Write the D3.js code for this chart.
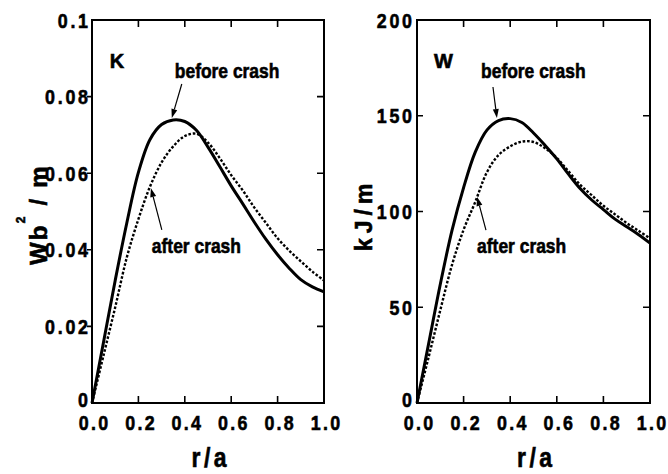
<!DOCTYPE html>
<html>
<head>
<meta charset="utf-8">
<script src="https://cdn.jsdelivr.net/npm/d3@7"></script>
<style>
  body { margin: 0; background: #fff; }
  svg text {
    font-family: "Liberation Sans", Arial, sans-serif;
    font-weight: bold;
    fill: #000;
    stroke: #000;
    stroke-width: 0.6px;
  }
</style>
</head>
<body>
<svg id="chart" width="668" height="474"></svg>
<script>
const radius = [0, 0.05, 0.1, 0.15, 0.2, 0.25, 0.3, 0.35, 0.4, 0.45, 0.5,
  0.55, 0.6, 0.65, 0.7, 0.75, 0.8, 0.85, 0.9, 0.95, 1.0];

// K panel (Wb^2/m)
const kBefore = [0, 0.016, 0.032, 0.047, 0.0602, 0.0688, 0.0727, 0.0739, 0.0735,
  0.0712, 0.0668, 0.0618, 0.0567, 0.052, 0.0472, 0.0427, 0.0387, 0.0352, 0.0322,
  0.0303, 0.029];
const kAfter = [0, 0.0125, 0.025, 0.038, 0.048, 0.0565, 0.0628, 0.067, 0.0697,
  0.0703, 0.068, 0.064, 0.0595, 0.0555, 0.051, 0.047, 0.043, 0.0398, 0.037,
  0.0343, 0.032];

// W panel (kJ/m)
const wBefore = [0, 31, 62, 90, 112.5, 131, 142.5, 147.5, 148.5, 146.5, 141,
  134.5, 127.5, 119.5, 112, 106, 101, 96, 92, 88, 83.5];
const wAfter = [0, 24, 48.5, 72, 90.5, 105, 120.5, 129.5, 134, 136.5, 136.3,
  133, 128, 121, 114, 108.5, 103, 98.5, 94, 90, 86];

const xTicks = [0, 0.2, 0.4, 0.6, 0.8, 1.0];
const kTicks = [0, 0.02, 0.04, 0.06, 0.08, 0.1];
const kTickLabels = ["0", "0.02", "0.04", "0.06", "0.08", "0.1"];
const wTicks = [0, 50, 100, 150, 200];
const wTickLabels = ["0", "50", "100", "150", "200"];

const SX = 0.85; // squeeze to get the condensed look
const svg = d3.select("#chart");

// text with horizontal squeeze; letter-spacing trail is compensated
function txt(g, x, y, s, size, anchor, ls, sx = SX) {
  const shift = anchor === "end" ? ls * sx : anchor === "middle" ? ls * sx / 2 : 0;
  return g.append("text")
    .attr("transform", `translate(${x + shift},${y}) scale(${sx},1)`)
    .attr("text-anchor", anchor)
    .attr("font-size", size)
    .attr("letter-spacing", ls)
    .text(s);
}

function drawPanel(opt) {
  const x = d3.scaleLinear().domain([0, 1]).range([opt.left, opt.right]);
  const y = d3.scaleLinear().domain([0, opt.yMax]).range([403, 20]);
  const g = svg.append("g");

  const line = (vals) =>
    d3.line()
      .x((d, i) => x(radius[i]))
      .y((d) => y(d))
      .curve(d3.curveCatmullRom)(vals);

  g.append("path")
    .attr("d", line(opt.after))
    .attr("fill", "none")
    .attr("stroke", "#000")
    .attr("stroke-width", 2.4)
    .attr("stroke-dasharray", "2.6,1.8");

  g.append("path")
    .attr("d", line(opt.before))
    .attr("fill", "none")
    .attr("stroke", "#000")
    .attr("stroke-width", 3);

  // frame
  g.append("rect")
    .attr("x", x(0))
    .attr("y", y(opt.yMax))
    .attr("width", x(1) - x(0))
    .attr("height", y(0) - y(opt.yMax))
    .attr("fill", "none")
    .attr("stroke", "#000")
    .attr("stroke-width", 2);

  // ticks
  g.selectAll(".xt")
    .data(xTicks.slice(1, -1))
    .join("path")
    .attr("d", (d) => `M${x(d)},${y(0)}v-7M${x(d)},${y(opt.yMax)}v7`)
    .attr("stroke", "#000")
    .attr("stroke-width", 1.6);

  g.selectAll(".yt")
    .data(opt.yTicks.slice(1, -1))
    .join("path")
    .attr("d", (d) =>
      `M${x(0) + opt.leftTick},${y(d)}H${x(0)}M${x(1)},${y(d)}h-7`)
    .attr("stroke", "#000")
    .attr("stroke-width", 1.6);

  // tick labels
  xTicks.forEach((d) => txt(g, x(d) + 1.5, 430, d.toFixed(1), 21, "middle", 2.7));
  opt.yTicks.forEach((d, i) =>
    txt(g, x(0) - opt.labelGap, y(d) + (d === 0 ? 3.5 : 7.5), opt.yTickLabels[i], 21, "end", 3.2));

  // axis titles
  txt(g, (x(0) + x(1)) / 2 + 1, 467, "r/a", 27, "middle", 4);

  const yt = g.append("text")
    .attr("transform", `translate(${opt.titleX},${opt.titleY}) rotate(-90)`)
    .attr("text-anchor", "start");
  opt.title(yt);

  // panel letter
  txt(g, x(opt.letter[0]), y(opt.letter[1]), opt.letter[2], 20, "start", 0, 1);

  // annotations
  opt.notes.forEach((n) => {
    txt(g, x(n.text[0]), y(n.text[1]), n.label, 20.5, "start", 0);

    const x1 = x(n.tail[0]), y1 = y(n.tail[1]);
    const x2 = x(n.tip[0]), y2 = y(n.tip[1]);
    const ang = Math.atan2(y2 - y1, x2 - x1);
    const len = 9, wid = 3;
    const bx = x2 - len * Math.cos(ang), by = y2 - len * Math.sin(ang);
    g.append("line")
      .attr("x1", x1).attr("y1", y1)
      .attr("x2", bx).attr("y2", by)
      .attr("stroke", "#000")
      .attr("stroke-width", 1.2);
    g.append("path")
      .attr("d", `M${x2},${y2}L${bx + wid * Math.sin(ang)},${by - wid * Math.cos(ang)}` +
        `L${bx - wid * Math.sin(ang)},${by + wid * Math.cos(ang)}Z`)
      .attr("fill", "#000");
  });
}

drawPanel({
  left: 92, right: 324, yMax: 0.1,
  yTicks: kTicks, yTickLabels: kTickLabels,
  before: kBefore, after: kAfter,
  leftTick: -5, labelGap: 4,
  titleX: 47, titleY: 265,
  title: (t) => {
    t.attr("font-size", 24).attr("letter-spacing", 2.2);
    t.append("tspan").text("Wb");
    t.append("tspan").attr("dy", -22).attr("font-size", 12).text("2");
    t.append("tspan").attr("dy", 22).text(" / m");
  },
  letter: [0.077, 0.0875, "K"],
  notes: [
    { label: "before crash", text: [0.357, 0.0849], tail: [0.387, 0.0833], tip: [0.344, 0.0744] },
    { label: "after crash", text: [0.258, 0.0392], tail: [0.301, 0.0452], tip: [0.254, 0.0561] },
  ],
});

drawPanel({
  left: 417, right: 650, yMax: 200,
  yTicks: wTicks, yTickLabels: wTickLabels,
  before: wBefore, after: wAfter,
  leftTick: 6, labelGap: 5,
  titleX: 372, titleY: 251,
  title: (t) => t.attr("font-size", 23).attr("letter-spacing", 5).text("kJ/m"),
  letter: [0.073, 175, "W"],
  notes: [
    { label: "before crash", text: [0.275, 169.7], tail: [0.326, 165], tip: [0.343, 148.8] },
    { label: "after crash", text: [0.258, 78.3], tail: [0.296, 90.3], tip: [0.258, 107.6] },
  ],
});
</script>
</body>
</html>
